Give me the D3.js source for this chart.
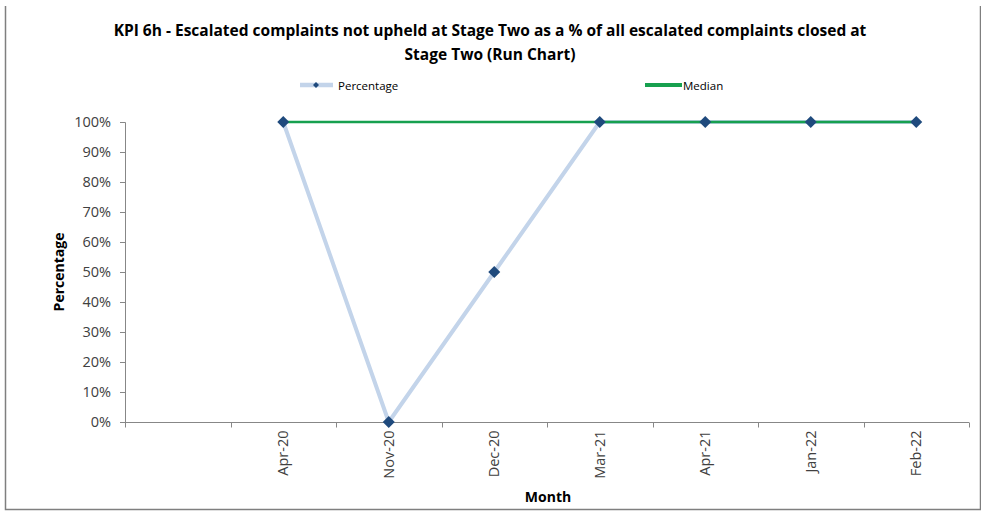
<!DOCTYPE html>
<html>
<head>
<meta charset="utf-8">
<script src="https://cdn.jsdelivr.net/npm/d3@7"></script>
<style>
  html, body { margin: 0; padding: 0; background: #fff; }
  svg { display: block; }
  text { font-family: "Open Sans", "Liberation Sans", sans-serif; }
</style>
</head>
<body>
<script>
// Run chart data
const months = ["", "Apr-20", "Nov-20", "Dec-20", "Mar-21", "Apr-21", "Jan-22", "Feb-22"];
const percentage = [null, 1.0, 0.0, 0.5, 1.0, 1.0, 1.0, 1.0];
const median = [null, 1.0, 1.0, 1.0, 1.0, 1.0, 1.0, 1.0];
const yTicks = [0, 0.1, 0.2, 0.3, 0.4, 0.5, 0.6, 0.7, 0.8, 0.9, 1.0];
const titleLines = [
  "KPI 6h - Escalated complaints not upheld at Stage Two as a % of all escalated complaints closed at",
  "Stage Two (Run Chart)"
];

const W = 981, H = 511;
const svg = d3.select("body").append("svg").attr("width", W).attr("height", H);

// outer frame
svg.append("path")
  .attr("d", "M5.5,6 V509.5 H980.5 V6")
  .attr("fill", "none").attr("stroke", "#7f7f7f").attr("stroke-width", 1.5);

const x = d3.scaleBand().domain(months.map((m, i) => i)).range([125, 969]);
const y = d3.scaleLinear().domain([0, 1]).range([422, 122]);
const cx = i => x(i) + x.bandwidth() / 2;

// title
const title = svg.append("g");
titleLines.forEach((t, i) => {
  title.append("text")
    .attr("x", 490).attr("y", 36 + i * 24)
    .attr("text-anchor", "middle")
    .attr("font-weight", "bold").attr("font-size", 14.5)
    .attr("fill", "#000")
    .text(t);
});
// fit first title line to its width
const tl = title.select("text").node();
const w0 = tl.getComputedTextLength();
const fs = 14.5 * 753 / w0;
title.selectAll("text").attr("font-size", fs);

// y axis
const yAxis = d3.axisLeft(y).tickValues(yTicks).tickFormat(d3.format(".0%")).tickSize(5).tickPadding(9);
const gy = svg.append("g").attr("transform", "translate(125,0)").call(yAxis);
gy.select(".domain").attr("stroke", "#878787").attr("d", "M-5,122.5H0.5V422.5");
gy.selectAll(".tick line").attr("stroke", "#878787");
gy.selectAll(".tick text").attr("font-size", 14.5).attr("fill", "#404040");

// x axis with ticks at band boundaries
const gx = svg.append("g").attr("transform", "translate(0,422.5)");
gx.append("line").attr("x1", 125).attr("x2", 969).attr("stroke", "#878787");
const bounds = months.map((m, i) => x(i)).concat([969]);
gx.selectAll(".bt").data(bounds).join("line")
  .attr("x1", d => Math.round(d) + 0.5).attr("x2", d => Math.round(d) + 0.5)
  .attr("y1", 0).attr("y2", 5).attr("stroke", "#878787");
gx.selectAll(".lbl").data(months).join("text")
  .attr("transform", (d, i) => `translate(${cx(i) + 5},${8}) rotate(-90)`)
  .attr("text-anchor", "end")
  .attr("font-size", 14.5).attr("fill", "#404040")
  .text(d => d);

// axis titles
svg.append("text").attr("x", 548).attr("y", 502).attr("text-anchor", "middle")
  .attr("font-weight", "bold").attr("font-size", 14).text("Month");
svg.append("text").attr("transform", "translate(64,272) rotate(-90)")
  .attr("text-anchor", "middle").attr("font-weight", "bold").attr("font-size", 14).text("Percentage");

// series
const pts = percentage.map((v, i) => ({ i, v })).filter(d => d.v !== null);
const med = median.map((v, i) => ({ i, v })).filter(d => d.v !== null);
const line = d3.line().x(d => cx(d.i)).y(d => y(d.v));

svg.append("path").datum(pts).attr("d", line)
  .attr("fill", "none").attr("stroke", "#c3d4ea").attr("stroke-width", 4)
  .attr("stroke-linejoin", "round");
svg.append("path").datum(med).attr("d", line)
  .attr("fill", "none").attr("stroke", "#17a04f").attr("stroke-width", 2.4);

const diamond = d3.symbol().type(d3.symbolSquare).size(72);
svg.selectAll(".pt").data(pts).join("path")
  .attr("d", diamond)
  .attr("transform", d => `translate(${cx(d.i)},${y(d.v)}) rotate(45)`)
  .attr("fill", "#1f4a7d");

// legend
const lg = svg.append("g");
lg.append("line").attr("x1", 300).attr("x2", 333).attr("y1", 85).attr("y2", 85)
  .attr("stroke", "#c3d4ea").attr("stroke-width", 4.5);
lg.append("path").attr("d", d3.symbol().type(d3.symbolSquare).size(18))
  .attr("transform", "translate(316,85) rotate(45)").attr("fill", "#1f4a7d");
lg.append("text").attr("x", 338).attr("y", 89.5).attr("font-size", 11.5).attr("fill", "#000").text("Percentage");
lg.append("line").attr("x1", 645).attr("x2", 682).attr("y1", 85).attr("y2", 85)
  .attr("stroke", "#17a04f").attr("stroke-width", 4);
lg.append("text").attr("x", 683).attr("y", 89.5).attr("font-size", 11.5).attr("fill", "#000").text("Median");
</script>
</body>
</html>
